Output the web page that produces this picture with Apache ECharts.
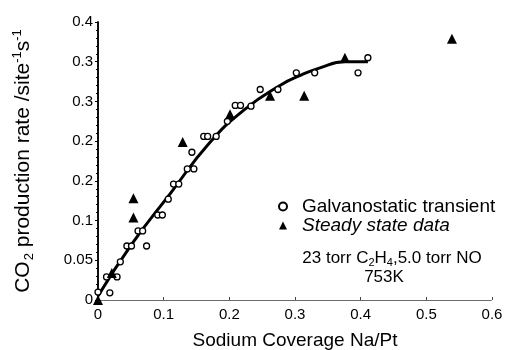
<!DOCTYPE html>
<html>
<head>
<meta charset="utf-8">
<script src="https://cdn.jsdelivr.net/npm/echarts@6/dist/echarts.min.js"></script>
<style>
html,body{margin:0;padding:0;background:#fff;}
#chart{width:507px;height:350px;}
</style>
</head>
<body>
<div id="chart"></div>
<script>
// Galvanostatic transient (open circles)
const galvX = [0, 0.018, 0.013, 0.029, 0.034, 0.044, 0.051, 0.074, 0.061, 0.068, 0.091, 0.098, 0.107, 0.115, 0.123, 0.136, 0.146, 0.143, 0.161, 0.167, 0.180, 0.197, 0.209, 0.217, 0.233, 0.247, 0.274, 0.302, 0.330, 0.396, 0.411];
const galvY = [0.010, 0.009, 0.029, 0.029, 0.048, 0.068, 0.068, 0.068, 0.087, 0.087, 0.107, 0.107, 0.127, 0.146, 0.146, 0.165, 0.165, 0.186, 0.206, 0.206, 0.206, 0.225, 0.245, 0.245, 0.244, 0.265, 0.265, 0.286, 0.286, 0.286, 0.305];
// Steady state data (filled triangles)
const steadyX = [0, 0.021, 0.054, 0.054, 0.129, 0.201, 0.262, 0.314, 0.376, 0.539];
const steadyY = [0, 0.034, 0.104, 0.128, 0.199, 0.234, 0.257, 0.257, 0.305, 0.329];
// Fitted curve
const fitX = [0, 0.052, 0.110, 0.169, 0.222, 0.279, 0.309, 0.337, 0.376, 0.411];
const fitY = [0.005, 0.071, 0.134, 0.197, 0.239, 0.271, 0.283, 0.292, 0.300, 0.300];
// Tick labels as printed on the original
const yTickLabels = ['0', '0.05', '0.1', '0.2', '0.2', '0.3', '0.3', '0.4'];
const xTickLabels = ['0', '0.1', '0.2', '0.3', '0.4', '0.5', '0.6'];

const zip = (a, b) => a.map((v, i) => [v, b[i]]);
const FONT = '"Liberation Sans", Arial, sans-serif';

const chart = echarts.init(document.getElementById('chart'));
chart.setOption({
  animation: false,
  backgroundColor: '#fff',
  textStyle: { fontFamily: FONT, color: '#000' },
  grid: { left: 98, right: 15, top: 22, bottom: 50, containLabel: false, outerBoundsMode: 'none' },
  xAxis: [{
    type: 'value', min: 0, max: 0.6, interval: 0.1,
    axisLine: { show: true, onZero: false, lineStyle: { color: '#444', type: 'dotted', width: 1 } },
    axisTick: { show: true, inside: true, length: 3, lineStyle: { color: '#444' } },
    splitLine: { show: false },
    axisLabel: { fontSize: 15, color: '#000', margin: 7, fontFamily: FONT,
      formatter: v => xTickLabels[Math.round(v / 0.1)] },
    name: 'Sodium Coverage Na/Pt', nameLocation: 'middle', nameGap: 31,
    nameTextStyle: { fontSize: 19, color: '#000', fontFamily: FONT }
  }, {
    type: 'value', position: 'top', min: 0, max: 0.6,
    axisLine: { show: true, lineStyle: { color: '#666', type: 'dotted', width: 1 } },
    axisTick: { show: false }, axisLabel: { show: false }, splitLine: { show: false }
  }],
  yAxis: [{
    type: 'value', min: 0, max: 0.35, interval: 0.05,
    axisLine: { show: true, onZero: false, lineStyle: { color: '#000', width: 1.5 } },
    axisTick: { show: true, length: 3, lineStyle: { color: '#000' } },
    minorTick: { show: true, splitNumber: 5, length: 2, lineStyle: { color: '#000' } },
    splitLine: { show: false },
    axisLabel: { fontSize: 15, color: '#000', margin: 5, fontFamily: FONT,
      formatter: v => yTickLabels[Math.round(v / 0.05)] },
    name: '{a|CO}{sub|2}{a| production rate /site}{sup|-1}{a|s}{sup|-1}',
    nameLocation: 'middle', nameGap: 62, nameRotate: 90,
    nameTextStyle: {
      fontFamily: FONT, color: '#000',
      rich: {
        a: { fontSize: 21, fontFamily: FONT, color: '#000' },
        sub: { fontSize: 13, fontFamily: FONT, color: '#000', padding: [12, 0, 0, 1] },
        sup: { fontSize: 13, fontFamily: FONT, color: '#000', padding: [0, 0, 12, 0] }
      }
    }
  }, {
    type: 'value', position: 'right', min: 0, max: 0.35,
    axisLine: { show: true, lineStyle: { color: '#000', width: 1.5 } },
    axisTick: { show: false }, axisLabel: { show: false }, splitLine: { show: false }
  }],
  legend: {
    orient: 'vertical', left: 276, top: 193, itemGap: 0,
    itemWidth: 8, itemHeight: 8, backgroundColor: '#fff', padding: [4, 4, 4, 2],
    textStyle: { fontSize: 19, color: '#000', fontFamily: FONT, padding: [0, 0, 0, 10] },
    data: [
      { name: 'Galvanostatic transient', icon: 'circle' },
      { name: 'Steady state data', icon: 'triangle', textStyle: { fontStyle: 'italic' } }
    ]
  },
  graphic: [{
    type: 'text', x: 392, y: 258, z: 100,
    style: {
      text: '{a|23 torr C}{s|2}{a|H}{s|4}{a|,5.0 torr NO}',
      align: 'center', verticalAlign: 'middle',
      rich: {
        a: { fontSize: 17, fontFamily: FONT, fill: '#000' },
        s: { fontSize: 11, fontFamily: FONT, fill: '#000', padding: [10, 0, 0, 0] }
      }
    }
  }, {
    type: 'text', x: 384, y: 277, z: 100,
    style: { text: '753K', align: 'center', verticalAlign: 'middle',
      fontSize: 17, fontFamily: FONT, fill: '#000' }
  }],
  series: [{
    name: 'fit', type: 'line', data: zip(fitX, fitY), smooth: true,
    symbol: 'none', lineStyle: { color: '#000', width: 3 }, z: 2
  }, {
    name: 'Galvanostatic transient', type: 'scatter', data: zip(galvX, galvY),
    symbol: 'circle', symbolSize: 6, clip: false, z: 3,
    itemStyle: { color: '#fff', borderColor: '#000', borderWidth: 1.3, opacity: 1 }
  }, {
    name: 'Steady state data', type: 'scatter', data: zip(steadyX, steadyY),
    symbol: 'triangle', symbolSize: 10, clip: false, z: 4,
    itemStyle: { color: '#000', opacity: 1 }
  }]
});
</script>
</body>
</html>
